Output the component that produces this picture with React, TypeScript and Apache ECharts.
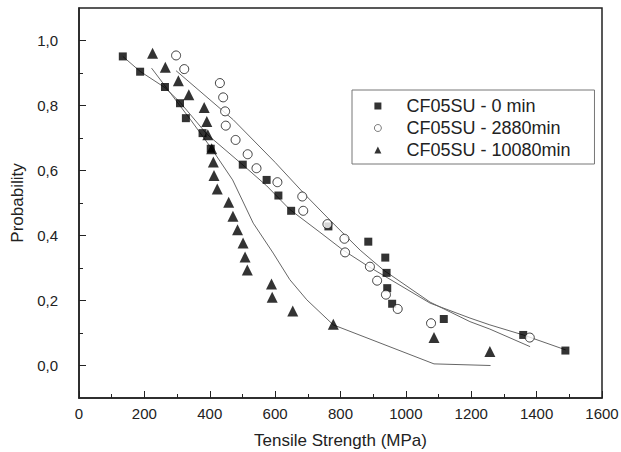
import React, { useEffect, useRef } from "react";
import * as echarts from "echarts";

// CF05SU - 0 min (squares)
const sqX = [134, 187, 263, 309, 327, 378, 403, 501, 574, 610, 649, 763, 885, 937, 941, 943, 958, 1116, 1359, 1488];
const sqY = [0.951, 0.904, 0.857, 0.807, 0.761, 0.715, 0.667, 0.618, 0.571, 0.523, 0.476, 0.428, 0.381, 0.332, 0.285, 0.238, 0.19, 0.143, 0.094, 0.046];

// CF05SU - 2880min (open circles)
const ciX = [297, 322, 431, 441, 447, 449, 479, 516, 543, 607, 683, 686, 760, 812, 814, 890, 912, 939, 975, 1077, 1379];
const ciY = [0.954, 0.912, 0.869, 0.825, 0.782, 0.738, 0.694, 0.65, 0.607, 0.564, 0.52, 0.476, 0.435, 0.39, 0.348, 0.304, 0.261, 0.218, 0.174, 0.13, 0.086];

// CF05SU - 10080min (triangles)
const trX = [225, 264, 304, 336, 383, 391, 394, 406, 411, 413, 423, 458, 471, 485, 502, 508, 515, 589, 591, 654, 778, 1086, 1257];
const trY = [0.961, 0.918, 0.876, 0.833, 0.794, 0.751, 0.71, 0.667, 0.626, 0.585, 0.543, 0.502, 0.459, 0.418, 0.377, 0.334, 0.294, 0.251, 0.21, 0.168, 0.127, 0.086, 0.043];

// Fitted curves
const fitSqX = [134, 187, 263, 309, 391, 498, 574, 645, 737, 808, 885, 1074, 1196, 1257, 1359, 1489];
const fitSqY = [0.951, 0.905, 0.855, 0.81, 0.712, 0.62, 0.553, 0.48, 0.41, 0.355, 0.305, 0.192, 0.146, 0.125, 0.094, 0.048];

const fitCiX = [297, 472, 600, 697, 768, 860, 931, 1074, 1196, 1257, 1380];
const fitCiY = [0.907, 0.756, 0.625, 0.52, 0.447, 0.355, 0.294, 0.195, 0.135, 0.112, 0.058];

const fitTrX = [222, 340, 401, 470, 533, 594, 645, 697, 778, 1086, 1259];
const fitTrY = [0.915, 0.758, 0.674, 0.571, 0.438, 0.346, 0.264, 0.202, 0.125, 0.005, 0.0];

const seriesNames = ["CF05SU - 0 min", "CF05SU - 2880min", "CF05SU - 10080min"];
const yMajor = [0, 0.2, 0.4, 0.6, 0.8, 1.0];
const yMinor = [0.1, 0.3, 0.5, 0.7, 0.9];

const zip = (xs: number[], ys: number[]) => xs.map((x, i) => [x, ys[i]]);

const FONT = "'Liberation Sans', Arial, sans-serif";

export default function App() {
  const ref = useRef<HTMLDivElement>(null);
  useEffect(() => {
    if (!ref.current) return;
    const chart = echarts.init(ref.current, undefined, { renderer: "svg" });
    const lineStyle = { color: "#666", width: 1 };
    chart.setOption({
      animation: false,
      backgroundColor: "#fff",
      textStyle: { fontFamily: FONT },
      grid: {
        left: 79,
        right: 19,
        top: 8,
        bottom: 54,
        show: true,
        borderColor: "#222",
        borderWidth: 1.5,
        outerBoundsMode: "none",
      },
      xAxis: {
        type: "value",
        min: 0,
        max: 1600,
        interval: 200,
        name: "Tensile Strength (MPa)",
        nameLocation: "middle",
        nameGap: 34,
        nameTextStyle: { fontSize: 17, color: "#222", fontFamily: FONT },
        axisLine: { show: true, onZero: false, lineStyle: { color: "#222", width: 1.5 } },
        axisTick: { show: true, inside: true, length: 7, lineStyle: { color: "#222", width: 1 } },
        minorTick: { show: true, splitNumber: 2, length: 4, lineStyle: { color: "#222", width: 1 } },
        splitLine: { show: false },
        minorSplitLine: { show: false },
        axisLabel: {
          fontSize: 15,
          color: "#222",
          margin: 8,
          fontFamily: FONT,
          formatter: (v: number) => String(v),
        },
      },
      yAxis: [
        {
          type: "value",
          min: -0.1,
          max: 1.1,
          interval: 0.1,
          name: "Probability",
          nameLocation: "middle",
          nameGap: 51,
          nameTextStyle: { fontSize: 17, color: "#222", fontFamily: FONT },
          axisLine: { show: true, onZero: false, lineStyle: { color: "#222", width: 1.5 } },
          axisTick: { show: true, inside: true, length: 7, customValues: yMajor, lineStyle: { color: "#222", width: 1 } },
          splitLine: { show: false },
          axisLabel: {
            fontSize: 15,
            color: "#222",
            margin: 21,
            fontFamily: FONT,
            customValues: yMajor,
            formatter: (v: number) => v.toFixed(1).replace(".", ","),
          },
        },
        {
          type: "value",
          min: -0.1,
          max: 1.1,
          interval: 0.1,
          position: "left",
          axisLine: { show: false },
          axisTick: { show: true, inside: true, length: 4, customValues: yMinor, lineStyle: { color: "#222", width: 1 } },
          axisLabel: { show: false },
          splitLine: { show: false },
        },
      ],
      legend: {
        show: true,
        orient: "vertical",
        left: 352,
        top: 90,
        padding: [5, 24, 3, 22],
        itemGap: 0,
        itemWidth: 7,
        itemHeight: 7,
        borderColor: "#777",
        borderWidth: 1,
        backgroundColor: "#fff",
        textStyle: { fontSize: 18, color: "#222", lineHeight: 22, padding: [0, 0, 0, 20], fontFamily: FONT },
        data: [
          { name: seriesNames[0], icon: "rect" },
          { name: seriesNames[1], icon: "circle", itemStyle: { color: "#fff", borderColor: "#333", borderWidth: 0.8 } },
          { name: seriesNames[2], icon: "triangle" },
        ],
      },
      series: [
        {
          type: "line",
          name: "fit0",
          data: zip(fitSqX, fitSqY),
          symbol: "none",
          showSymbol: false,
          lineStyle,
          silent: true,
          z: 1,
        },
        {
          type: "line",
          name: "fit1",
          data: zip(fitCiX, fitCiY),
          symbol: "none",
          showSymbol: false,
          lineStyle,
          silent: true,
          z: 1,
        },
        {
          type: "line",
          name: "fit2",
          data: zip(fitTrX, fitTrY),
          symbol: "none",
          showSymbol: false,
          lineStyle,
          silent: true,
          z: 1,
        },
        {
          type: "scatter",
          name: seriesNames[0],
          data: zip(sqX, sqY),
          symbol: "rect",
          symbolSize: 8,
          itemStyle: { color: "#000" },
          z: 3,
        },
        {
          type: "scatter",
          name: seriesNames[1],
          data: zip(ciX, ciY),
          symbol: "circle",
          symbolSize: 9,
          itemStyle: { color: "#fff", borderColor: "#111", borderWidth: 1 },
          z: 4,
        },
        {
          type: "scatter",
          name: seriesNames[2],
          data: zip(trX, trY),
          symbol: "triangle",
          symbolSize: 11,
          itemStyle: { color: "#000" },
          z: 3,
        },
      ],
    });
    return () => chart.dispose();
  }, []);
  return (
    <div
      ref={ref}
      style={{ position: "fixed", left: 0, top: 0, width: 621, height: 452, background: "#fff" }}
    />
  );
}
